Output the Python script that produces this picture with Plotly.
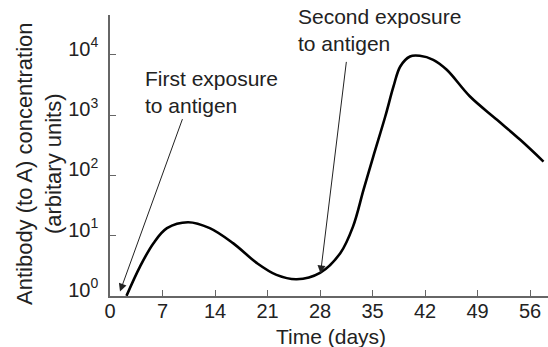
import plotly.graph_objects as go

days = [2.2, 4.0, 5.8, 7.6, 10.4, 13.3, 16.4, 19.6, 22.2, 24.9, 28.0, 30.7, 32.4, 33.8,
        35.1, 36.7, 37.8, 38.7, 40.0, 41.3, 43.1, 44.9, 48.0, 51.6, 54.7, 57.8]
antibody = [1.0, 3.06, 7.5, 13.3, 16.7, 13.3, 7.5, 3.49, 2.23, 1.89, 2.41, 5.1, 14.1, 57.4,
            205, 946, 2980, 6400, 9380, 9620, 8260, 5640, 2030, 834, 388, 169]

x_ticks = [0, 7, 14, 21, 28, 35, 42, 49, 56]
y_tickvals = [1, 10, 100, 1000, 10000]
y_ticktext = ["10<sup>0</sup>", "10<sup>1</sup>", "10<sup>2</sup>", "10<sup>3</sup>", "10<sup>4</sup>"]

FONT = "Liberation Sans, Arial, Helvetica, sans-serif"
TXT = "#222222"
AX = "#666666"

fig = go.Figure()
fig.add_trace(go.Scatter(x=days, y=antibody, mode="lines",
                         line=dict(color="black", width=2.6, shape="spline", smoothing=1.0),
                         hoverinfo="skip", showlegend=False))

fig.update_layout(
    width=548, height=347,
    margin=dict(l=110, r=0, t=15, b=51),
    paper_bgcolor="white", plot_bgcolor="white",
    font=dict(family=FONT, size=20, color=TXT),
    showlegend=False,
    xaxis=dict(range=[0, 58.4], tickvals=x_ticks, ticks="inside", ticklen=6,
               tickcolor=AX, tickwidth=1.2, showline=True, linecolor=AX, linewidth=1.5,
               showgrid=False, zeroline=False, tickfont=dict(size=20, color=TXT),
               ticklabelstandoff=-4),
    yaxis=dict(type="log", range=[-0.002, 4.66], tickvals=y_tickvals, ticktext=y_ticktext,
               ticks="inside", ticklen=6, tickcolor=AX, tickwidth=1.2, showline=True,
               linecolor=AX, linewidth=1.5, showgrid=False, zeroline=False,
               tickfont=dict(size=20, color=TXT), ticklabelstandoff=6, ticklabelshift=-6),
)

annotations = [
    dict(text="Antibody (to A) concentration<br>(arbitary units)", xref="paper", yref="paper",
         x=(39 - 110) / 438, y=(296 - 164) / 281, textangle=-90, showarrow=False,
         xanchor="center", yanchor="middle", font=dict(size=22, color=TXT)),
    dict(text="Time (days)", xref="paper", yref="paper", x=(331 - 110) / 438,
         y=(296 - 336) / 281, showarrow=False, xanchor="center", yanchor="middle",
         font=dict(size=21, color=TXT)),
    dict(text="First exposure<br>to antigen", xref="paper", yref="paper",
         x=(143 - 110) / 438, y=(296 - 65) / 281, xanchor="left", yanchor="top",
         align="left", showarrow=False, font=dict(size=21, color=TXT)),
    dict(text="Second exposure<br>to antigen", xref="paper", yref="paper",
         x=(296 - 110) / 438, y=(296 - 3) / 281, xanchor="left", yanchor="top",
         align="left", showarrow=False, font=dict(size=21, color=TXT)),
    dict(text="", x=1.33, y=0.071, xref="x", yref="y", showarrow=True,
         ax=63, ay=-174, arrowhead=2, arrowsize=1.6, arrowwidth=1, arrowcolor="#222222",
         standoff=0),
    dict(text="", x=28.07, y=0.373, xref="x", yref="y", showarrow=True,
         ax=26, ay=-213, arrowhead=2, arrowsize=1.6, arrowwidth=1, arrowcolor="#222222",
         standoff=0),
]
fig.update_layout(annotations=annotations)
fig.add_shape(type="line", x0=28.0, x1=28.0, y0=0.0, y1=0.33, xref="x", yref="y",
              line=dict(color="#999999", width=1, dash="dot"))

fig.write_html("out.html", config={"displayModeBar": False},
               post_script="document.body.style.margin='0';")
